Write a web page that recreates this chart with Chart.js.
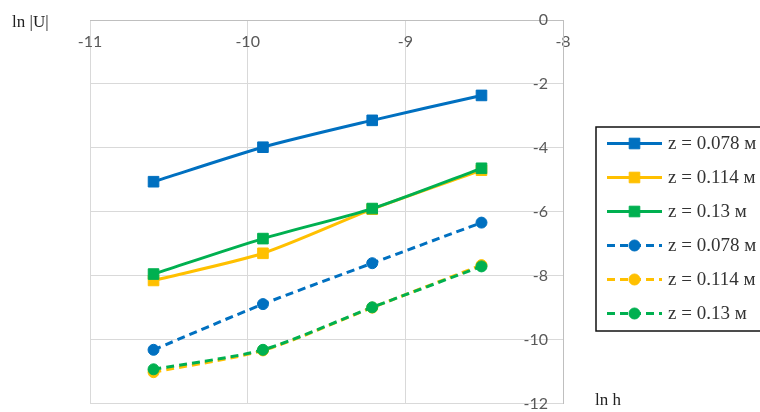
<!DOCTYPE html>
<html>
<head>
<meta charset="utf-8">
<script src="https://cdn.jsdelivr.net/npm/chart.js@4/dist/chart.umd.min.js"></script>
<style>
  html, body { margin: 0; padding: 0; background: #fff; }
  #wrap { width: 760px; height: 412px; position: relative; }
</style>
</head>
<body>
<div id="wrap"><canvas id="c" width="760" height="412"></canvas></div>
<script>
// ln h for h = 2.5e-5, 5e-5, 1e-4, 2e-4
const lnH = [-10.597, -9.903, -9.210, -8.517];

const seriesLabels = ['z = 0.078 м', 'z = 0.114 м', 'z = 0.13 м', 'z = 0.078 м', 'z = 0.114 м', 'z = 0.13 м'];

// ln |U|, first family (solid lines, square markers)
const solid078 = [-5.06, -3.98, -3.14, -2.36];
const solid114 = [-8.15, -7.30, -5.92, -4.70];
const solid013 = [-7.95, -6.84, -5.90, -4.64];

// ln |U|, second family (dashed lines, round markers)
const dashed078 = [-10.32, -8.89, -7.61, -6.34];
const dashed114 = [-11.02, -10.34, -9.00, -7.67];
const dashed013 = [-10.93, -10.32, -8.99, -7.71];

const xTicks = [-11, -10, -9, -8];
const yTicks = [0, -2, -4, -6, -8, -10, -12];

const BLUE = '#0070C0', YELLOW = '#FFC000', GREEN = '#00B050';

function pts(ys) { return lnH.map((x, i) => ({ x: x, y: ys[i] })); }

function series(label, ys, color, dashed, order) {
  return {
    label: label,
    data: pts(ys),
    borderColor: color,
    backgroundColor: color,
    borderWidth: 3,
    borderDash: dashed ? [8, 5] : [],
    pointStyle: dashed ? 'circle' : 'rect',
    pointRadius: dashed ? 5.5 : 7.5,
    pointBorderWidth: 1,
    pointBorderColor: color,
    pointBackgroundColor: color,
    tension: 0.25,
    fill: false,
    order: order
  };
}

const datasets = [
  series(seriesLabels[0], solid078, BLUE, false, 3),
  series(seriesLabels[1], solid114, YELLOW, false, 2),
  series(seriesLabels[2], solid013, GREEN, false, 1),
  series(seriesLabels[3], dashed078, BLUE, true, 3),
  series(seriesLabels[4], dashed114, YELLOW, true, 2),
  series(seriesLabels[5], dashed013, GREEN, true, 1)
];

// Boxed legend with line + marker samples, and the two axis captions
const decorations = {
  id: 'decorations',
  afterDraw(chart) {
    const ctx = chart.ctx;
    ctx.save();
    // axis captions
    ctx.fillStyle = '#222';
    ctx.font = '17px "Liberation Serif", serif';
    ctx.textBaseline = 'middle';
    ctx.textAlign = 'left';
    ctx.fillText('ln |U|', 12, 23);
    ctx.fillText('ln h', 595, 401);

    // legend frame
    const bx = 596, by = 127, bw = 180, bh = 204;
    ctx.fillStyle = '#fff';
    ctx.fillRect(bx, by, bw, bh);
    ctx.strokeStyle = '#111';
    ctx.lineWidth = 1.5;
    ctx.strokeRect(bx, by, bw, bh);

    chart.data.datasets.forEach((ds, i) => {
      const y = 143.5 + i * 34;
      const x0 = 607, x1 = 662, xm = (x0 + x1) / 2;
      ctx.strokeStyle = ds.borderColor;
      ctx.lineWidth = 3;
      ctx.setLineDash(ds.borderDash);
      ctx.beginPath();
      ctx.moveTo(x0, y);
      ctx.lineTo(x1, y);
      ctx.stroke();
      ctx.setLineDash([]);
      ctx.fillStyle = ds.backgroundColor;
      ctx.strokeStyle = ds.borderColor;
      ctx.lineWidth = 1;
      Chart.helpers.drawPoint(ctx, {
        pointStyle: ds.pointStyle,
        radius: ds.pointRadius,
        borderWidth: 1,
        rotation: 0
      }, xm, y);
      ctx.fillStyle = '#333';
      ctx.font = '19px "Liberation Serif", serif';
      ctx.textAlign = 'left';
      ctx.textBaseline = 'middle';
      ctx.fillText(ds.label, 668, y + 1);
    });
    ctx.restore();
  }
};

new Chart(document.getElementById('c'), {
  type: 'line',
  data: { datasets: datasets },
  plugins: [decorations],
  options: {
    responsive: false,
    animation: false,
    devicePixelRatio: 1,
    layout: { padding: { left: 90, top: 20, right: 197, bottom: 6 } },
    plugins: { legend: { display: false }, tooltip: { enabled: false } },
    scales: {
      x: {
        type: 'linear',
        position: 'top',
        min: -11,
        max: -8,
        afterBuildTicks: s => { s.ticks = xTicks.map(v => ({ value: v })); },
        afterFit: s => { s.height = 0; s.paddingLeft = 0; s.paddingRight = 0; },
        grid: { color: '#d9d9d9', lineWidth: 1, drawTicks: false },
        border: { color: '#bfbfbf', width: 1 },
        ticks: {
          mirror: true,
          padding: 12,
          maxRotation: 0,
          autoSkip: false,
          color: '#595959',
          font: { family: 'Lato', size: 16 }
        }
      },
      y: {
        type: 'linear',
        position: 'right',
        min: -12,
        max: 0,
        afterBuildTicks: s => { s.ticks = yTicks.map(v => ({ value: v })); },
        afterFit: s => { s.width = 0; s.paddingTop = 0; s.paddingBottom = 0; },
        grid: { color: '#d9d9d9', lineWidth: 1, drawTicks: false },
        border: { color: '#bfbfbf', width: 1 },
        ticks: {
          mirror: true,
          padding: -15,
          color: '#595959',
          font: { family: 'Lato', size: 16 }
        }
      }
    }
  }
});
</script>
</body>
</html>
